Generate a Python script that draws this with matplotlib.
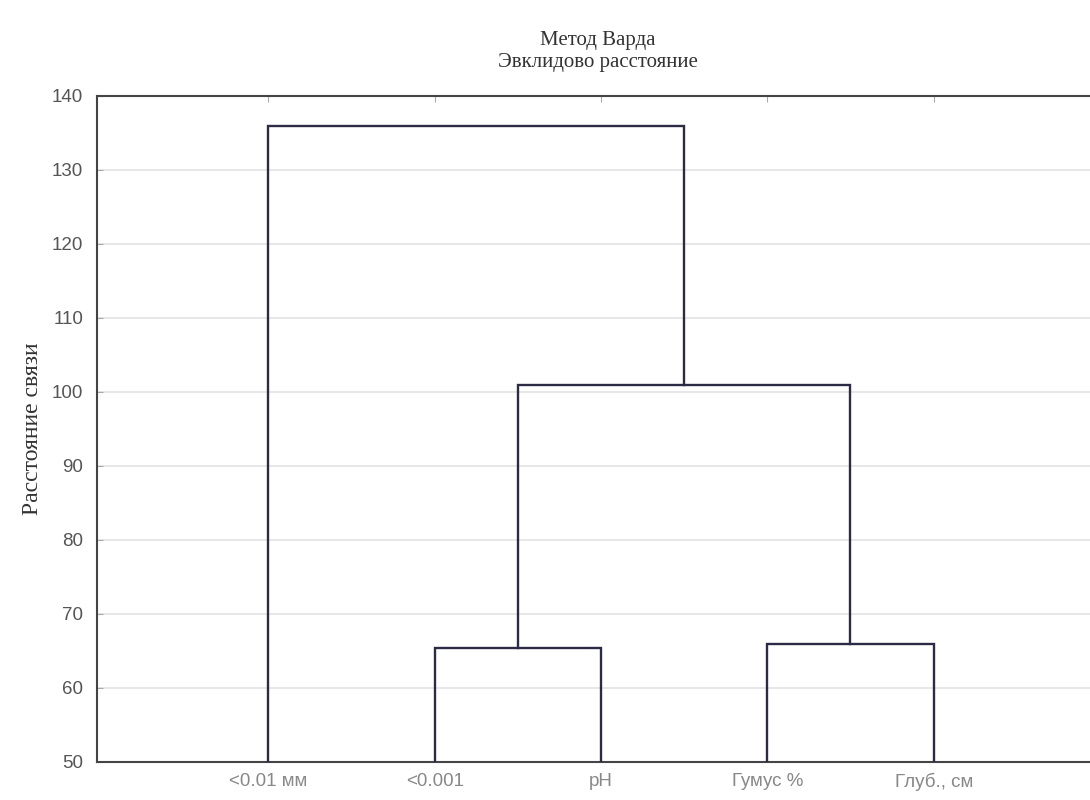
import matplotlib
matplotlib.use("Agg")
import matplotlib.pyplot as plt

# Data
labels = ["<0.01 мм", "<0.001", "pH", "Гумус %", "Глуб., см"]
# linkage: (left cluster id, right cluster id, height); leaves 0..4, new clusters 5..
links = [(1, 2, 65.4), (3, 4, 65.9), (5, 6, 101.0), (0, 7, 136.0)]
yticks = [50, 60, 70, 80, 90, 100, 110, 120, 130, 140]

fig = plt.figure(figsize=(10.9, 8), dpi=100)
ax = fig.add_axes([97/1090, 1-762/800, (1090-97)/1090, (762-96)/800])

pos = {i: (i + 1, 50.0) for i in range(len(labels))}
color = "#2b2b45"
for k, (a, b, h) in enumerate(links):
    xa, ya = pos[a]
    xb, yb = pos[b]
    ax.plot([xa, xa, xb, xb], [ya, h, h, yb], color=color, lw=1.7, solid_joinstyle="miter", zorder=3)
    pos[len(labels) + k] = ((xa + xb) / 2, h)

ax.set_xlim(-0.03, 5.94)
ax.set_ylim(50, 140)
ax.set_yticks(yticks)
ax.set_xticks(range(1, len(labels) + 1))
ax.set_xticklabels(labels)
ax.yaxis.grid(True, color="#e3e3e3", lw=1.2, zorder=0)
ax.tick_params(axis="y", direction="in", length=4, color="#aaaaaa", labelsize=13.5,
               labelcolor="#555555", pad=10)
ax.tick_params(axis="x", direction="in", length=4, color="#aaaaaa", labelsize=13.5,
               labelcolor="#888888", top=True, bottom=False, pad=8)
for t in ax.get_xticklabels() + ax.get_yticklabels():
    t.set_family("Liberation Sans")
for s in ["left", "top", "bottom"]:
    ax.spines[s].set_color("#444444")
    ax.spines[s].set_linewidth(1.5)
ax.spines["right"].set_visible(False)

ax.set_ylabel("Расстояние связи", family="Liberation Serif", fontsize=17, color="#333333", labelpad=6)
fig.text(598/1090, 1-41/800, "Метод Варда", family="Liberation Serif", fontsize=15,
         color="#333333", ha="center", va="center")
fig.text(598/1090, 1-63/800, "Эвклидово расстояние", family="Liberation Serif", fontsize=15,
         color="#333333", ha="center", va="center")

fig.savefig("out.png", dpi=100)
